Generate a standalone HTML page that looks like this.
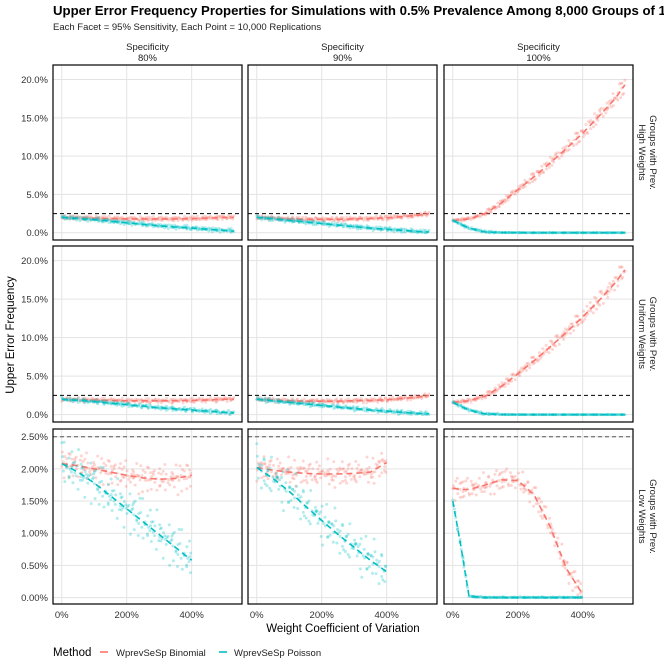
<!DOCTYPE html>
<html><head><meta charset="utf-8"><style>
body{margin:0;background:#fff;width:664px;height:664px;overflow:hidden;font-family:"Liberation Sans",sans-serif}
svg{display:block}
</style></head><body>
<svg id="chart" width="664" height="664" viewBox="0 0 664 664">
<text x="53" y="15" font-size="13.2" font-weight="bold" fill="#000">Upper Error Frequency Properties for Simulations with 0.5% Prevalence Among 8,000 Groups of 10</text>
<text x="53" y="30" font-size="9.5" fill="#222">Each Facet = 95% Sensitivity, Each Point = 10,000 Replications</text>
<text transform="translate(14,335) rotate(-90)" text-anchor="middle" font-size="11.5" fill="#000">Upper Error Frequency</text>
<text x="343" y="632" text-anchor="middle" font-size="11.5" fill="#000">Weight Coefficient of Variation</text>
<g>
<text x="53" y="656" font-size="11.5" fill="#000">Method</text>
<line x1="100" y1="652" x2="108" y2="652" stroke="#F8766D" stroke-width="1.6"/>
<text x="116" y="656" font-size="9.5" fill="#222">WprevSeSp Binomial</text>
<line x1="219" y1="652" x2="227" y2="652" stroke="#00BFC4" stroke-width="1.6"/>
<text x="234" y="656" font-size="9.5" fill="#222">WprevSeSp Poisson</text>
</g>
</svg>
<script>
// ---- data ----
const colLabels = ["80%","90%","100%"];
const rowLabels = [["Groups with Prev.","High Weights"],["Groups with Prev.","Uniform Weights"],["Groups with Prev.","Low Weights"]];
const xTicks = [0,200,400];
const xTickLabels = ["0%","200%","400%"];
const yTicksTop = [0,5,10,15,20];
const yTickLabelsTop = ["0.0%","5.0%","10.0%","15.0%","20.0%"];
const yTicksLow = [0,0.5,1,1.5,2,2.5];
const yTickLabelsLow = ["0.00%","0.50%","1.00%","1.50%","2.00%","2.50%"];
const refLine = 2.5;
const xsLong = [0,50,100,150,200,250,300,350,400,450,500,530];
const xsShort = [0,50,100,150,200,250,300,350,400];
const xsFast = [0,25,50,100,150,200,250,300,350,400];
// row 1 (high weights)
const r1c1Bin = [2.0,1.95,1.9,1.85,1.8,1.8,1.8,1.8,1.85,1.9,2.0,2.0];
const r1c1Poi = [2.0,1.85,1.7,1.5,1.3,1.1,0.9,0.75,0.6,0.45,0.3,0.2];
const r1c2Bin = [2.0,1.9,1.8,1.75,1.75,1.75,1.8,1.85,1.95,2.1,2.3,2.5];
const r1c2Poi = [2.0,1.8,1.6,1.4,1.2,1.0,0.8,0.6,0.45,0.3,0.15,0.1];
const r1c3Bin = [1.6,1.8,2.5,3.9,5.6,7.3,9.1,11.0,13.0,15.2,17.5,19.3];
const r1c3Poi = [1.6,0.6,0.1,0.02,0.01,0,0,0,0,0,0,0];
// row 2 (uniform weights)
const r2c1Bin = [2.0,1.95,1.9,1.85,1.8,1.8,1.8,1.8,1.85,1.9,2.0,2.0];
const r2c1Poi = [2.0,1.85,1.7,1.5,1.3,1.1,0.9,0.75,0.6,0.45,0.3,0.2];
const r2c2Bin = [2.0,1.9,1.8,1.75,1.75,1.75,1.8,1.85,1.95,2.1,2.3,2.5];
const r2c2Poi = [2.0,1.8,1.6,1.4,1.2,1.0,0.8,0.6,0.45,0.3,0.15,0.1];
const r2c3Bin = [1.6,1.8,2.4,3.7,5.3,7.0,8.8,10.7,12.7,14.8,17.1,18.8];
const r2c3Poi = [1.6,0.6,0.1,0.02,0.01,0,0,0,0,0,0,0];
// row 3 (low weights)
const r3c1Bin = [2.08,2.05,2.0,1.95,1.9,1.86,1.84,1.85,1.9];
const r3c1Poi = [2.08,1.95,1.78,1.58,1.38,1.18,0.98,0.78,0.58];
const r3c2Bin = [2.02,1.98,1.95,1.93,1.92,1.92,1.93,1.95,2.1];
const r3c2Poi = [2.02,1.85,1.65,1.42,1.2,0.98,0.78,0.58,0.4];
const r3c3Bin = [1.7,1.68,1.68,1.75,1.83,1.82,1.6,1.1,0.45,0.05];
const r3c3Poi = [1.5,0.8,0.02,0,0,0,0,0,0,0];
// scatter spread (percentage points) per facet series
const spreadTop = [0.28,0.28,0.28,0.28,0.5,0.15];
const spreadLow = [0.22,0.3,0.2,0.3,0.17,0.05];
const residuals = [0.3,-0.8,0.55,-0.2,0.9,-0.6,0.1,-0.95,0.7,-0.35,0.45,-0.1,0.85,-0.7,0.2,-0.5,0.65,-0.25,0.05,-0.85,0.4,0.75,-0.45,-0.05,0.95,-0.65,0.25,-0.3,0.6,-0.9,0.15,0.5,-0.75,0.35,-0.15,0.8,-0.55,0.0,-0.4,0.7,-0.12,0.33,-0.68,0.92,-0.27,0.58,-0.83,0.08,0.41,-0.49,0.77];

// ---- layout ----
const colX = [[53,242],[248,437],[444,633]];
const rowY = [[65,240],[246,422],[429,604]];
const xDom = [-27,555];
const yDomTop = [-0.95,21.9];
const yDomLow = [-0.1,2.62];
const RED="#F8766D", CYAN="#00BFC4";
const svg=document.getElementById('chart');
const NS="http://www.w3.org/2000/svg";
function mk(tag,attrs,parent){const e=document.createElementNS(NS,tag);for(const k in attrs)e.setAttribute(k,attrs[k]);(parent||svg).appendChild(e);return e;}
function xs(c,v){const [a,b]=colX[c];return a+(v-xDom[0])/(xDom[1]-xDom[0])*(b-a);}
function ys(r,v){const [a,b]=rowY[r];const d=r<2?yDomTop:yDomLow;return b-(v-d[0])/(d[1]-d[0])*(b-a);}
function interp(xa,ya,x){for(let i=0;i<xa.length-1;i++){if(x<=xa[i+1]){const t=(x-xa[i])/(xa[i+1]-xa[i]);return ya[i]+t*(ya[i+1]-ya[i]);}}return ya[ya.length-1];}

const facets=[
 [[xsLong,r1c1Bin,r1c1Poi],[xsLong,r1c2Bin,r1c2Poi],[xsLong,r1c3Bin,r1c3Poi]],
 [[xsLong,r2c1Bin,r2c1Poi],[xsLong,r2c2Bin,r2c2Poi],[xsLong,r2c3Bin,r2c3Poi]],
 [[xsShort,r3c1Bin,r3c1Poi],[xsShort,r3c2Bin,r3c2Poi],[xsFast,r3c3Bin,r3c3Poi]]
];
const R=residuals.length;

for(let r=0;r<3;r++){
 const ticks=r<2?yTicksTop:yTicksLow, tl=r<2?yTickLabelsTop:yTickLabelsLow;
 for(let c=0;c<3;c++){
  const g=mk('g',{});
  
  
  const [x0,x1]=colX[c],[y0,y1]=rowY[r];
  ticks.forEach(t=>{const l=mk('line',{x1:x0,x2:x1,y1:ys(r,t),y2:ys(r,t),stroke:'#e3e3e3','stroke-width':1},g);
   });
  xTicks.forEach(t=>{const l=mk('line',{x1:xs(c,t),x2:xs(c,t),y1:y0,y2:y1,stroke:'#e3e3e3','stroke-width':1},g);
   });
  const ref=mk('line',{x1:x0,x2:x1,y1:ys(r,refLine),y2:ys(r,refLine),stroke:r<2?'#000':'#555','stroke-width':1,'stroke-dasharray':'4,3'},g);
  
  const [xa,bin,poi]=facets[r][c];
  const xmax=xa[xa.length-1];
  [[bin,RED,0],[poi,CYAN,1]].forEach(([ya,col,si])=>{
   const spread=(r<2?spreadTop:spreadLow)[c*2+si];
   const n=r<2?200:170;
   for(let i=0;i<n;i++){
    const xv=Math.max(0,Math.min(xmax,i/(n-1)*xmax+residuals[(i*5+3)%R]*4));
    const base=interp(xa,ya,xv);
    let sp=spread; if(r<2&&c===2&&si===0) sp=spread*(0.3+xv/250);
    if(base<=0.03) sp=Math.min(sp,0.012);
    const e=residuals[(i+si*11+r*5+c*3)%R]*0.75+residuals[(i*13+7+si*17)%R]*0.55;
    let yv=base+e*sp;
    if(yv<0) yv=0;
    const p=mk('circle',{cx:xs(c,xv),cy:ys(r,yv),r:1.5,fill:col,'fill-opacity':0.3},g);
    
    
   }
   const d=xa.map((x,i)=>(i?'L':'M')+xs(c,x).toFixed(1)+','+ys(r,ya[i]).toFixed(1)).join(' ');
   const pl=mk('path',{d:d,fill:'none',stroke:col,'stroke-width':1.6,'stroke-dasharray':'6,4'},g);
   
   
  });
  const b=mk('rect',{x:x0,y:y0,width:x1-x0,height:y1-y0,fill:'none',stroke:'#000','stroke-width':1.2},g);
  
  if(c===0){ticks.forEach((t,i)=>{const tx=mk('text',{x:48,y:ys(r,t)+3.5,'text-anchor':'end','font-size':9.5,fill:'#333'});tx.textContent=tl[i];
   });}
  if(r===2){xTicks.forEach((t,i)=>{const tx=mk('text',{x:xs(c,t),y:618,'text-anchor':'middle','font-size':9.5,fill:'#333'});tx.textContent=xTickLabels[i];
   });}
 }
}
colLabels.forEach((lab,c)=>{const cx=(colX[c][0]+colX[c][1])/2;
 const t1=mk('text',{x:cx,y:50,'text-anchor':'middle','font-size':9.5,fill:'#222'});t1.textContent='Specificity';
 
 const t2=mk('text',{x:cx,y:61,'text-anchor':'middle','font-size':9.5,fill:'#222'});t2.textContent=lab;
 });
rowLabels.forEach((lab,r)=>{const cy=(rowY[r][0]+rowY[r][1])/2;
 const g=mk('g',{transform:'translate(648,'+cy+') rotate(90)'});
 
 const a=mk('text',{x:0,y:-2,'text-anchor':'middle','font-size':9.5,fill:'#222'},g);a.textContent=lab[0];
 const b=mk('text',{x:0,y:9,'text-anchor':'middle','font-size':9.5,fill:'#222'},g);b.textContent=lab[1];});
</script>
</body></html>
